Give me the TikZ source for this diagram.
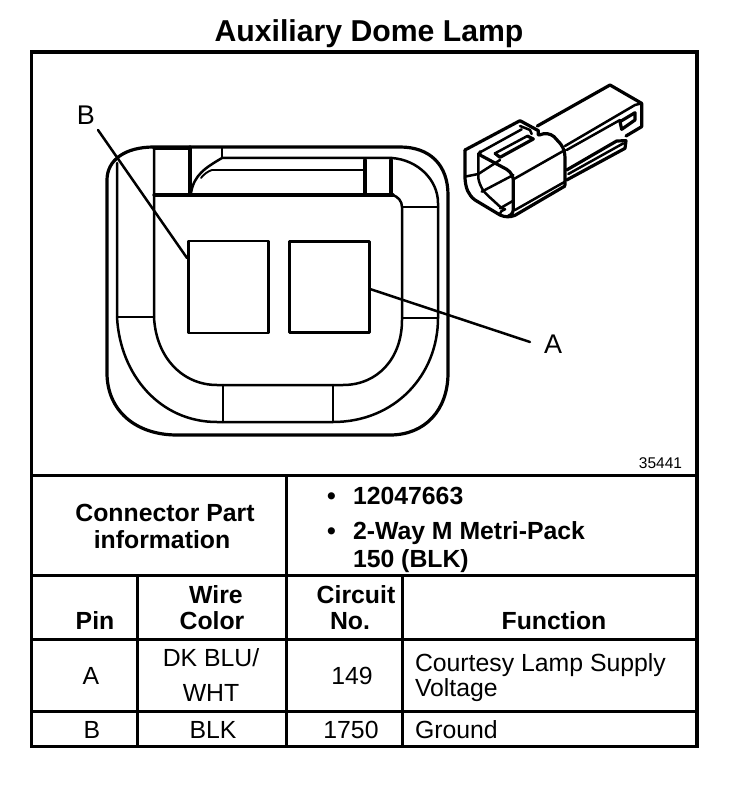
\documentclass[tikz,border=0pt]{standalone}
\usepackage{fontspec}
\setmainfont{Liberation Sans}
\tikzset{
  px/.style={x=1pt,y=-1pt},
  frame line/.style={line width=3.4pt,line join=miter,line cap=butt},
  rule line/.style={line width=3pt,line join=miter,line cap=butt},
  thick line/.style={line width=3.2pt,line join=round,line cap=round},
  med line/.style={line width=2.5pt,line join=round,line cap=round},
  thin line/.style={line width=1.9pt,line join=round,line cap=round},
  txt/.style={inner sep=0pt,outer sep=0pt,anchor=base,text=black,yshift=-1pt},
  ltxt/.style={inner sep=0pt,outer sep=0pt,anchor=base west,text=black,yshift=-1pt},
  title text/.style={txt,font=\fontsize{30.2}{30}\selectfont\bfseries},
  bold text/.style={txt,font=\fontsize{24.8}{25}\selectfont\bfseries},
  lbold text/.style={ltxt,font=\fontsize{24.8}{25}\selectfont\bfseries},
  body text/.style={txt,font=\fontsize{24.8}{25}\selectfont},
  lbody text/.style={ltxt,font=\fontsize{24.8}{25}\selectfont},
  callout/.style={txt,font=\fontsize{27}{27}\selectfont},
  fig number/.style={txt,font=\fontsize{15.5}{15.5}\selectfont},
}
\begin{document}
\begin{tikzpicture}[px]
\useasboundingbox (0,0) rectangle (736,786);
\fill[white] (0,0) rectangle (736,786);
% title
\node[title text] (title) at (369,41) {Auxiliary Dome Lamp};
% frame and table
\draw[frame line] (31.5,52) rectangle (697,746.5);
\draw[rule line] (31.5,475) -- (697,475);
\draw[rule line] (31.5,575) -- (697,575);
\draw[rule line] (31.5,639) -- (697,639);
\draw[rule line] (31.5,711) -- (697,711);
\draw[rule line] (286,475) -- (286,746);
\draw[rule line] (137,575) -- (137,746);
\draw[rule line] (402,575) -- (402,746);
% connector face
\draw[thick line] (190,147) -- (400,147) .. controls (430,147) and (448,165) .. (448,195)
  -- (448,373) .. controls (448,410) and (425,435) .. (390,435)
  -- (177,435) .. controls (135,435) and (107,410) .. (107,373)
  -- (107,180) .. controls (107,160) and (125,147) .. (154,147) -- (190,147);
\draw[med line] (117,163) -- (117,317) .. controls (120,375) and (160,422) .. (217,422)
  -- (333,422) .. controls (395,422) and (438,375) .. (438,318)
  -- (438,203) .. controls (438,180) and (418,160) .. (392,158);
\draw[med line] (154,148) -- (154,317) .. controls (156,358) and (183,385) .. (217,385)
  -- (343,385) .. controls (378,385) and (402,358) .. (402,320)
  -- (402,207) .. controls (402,201) and (398,197) .. (393,195) -- (154,195);
\draw[thick line] (154,148) -- (190,148);
\draw[thick line] (154,195) -- (393,195);
\draw[thick line] (190,147) -- (190,195);
\draw[med line] (222,148) -- (222,158);
\draw[med line] (191,193) .. controls (194,175) and (205,168) .. (222,158) -- (392,158);
\draw[thin line] (201,178) .. controls (203,175) and (208,171) .. (212,170) -- (365,170);
\draw[thick line] (365,160) -- (365,195);
\draw[thick line] (391,160) -- (391,195);
\draw[med line] (402,207) -- (438,207);
\draw[med line] (402,318) -- (438,318);
\draw[med line] (117,317) -- (154,317);
\draw[med line] (223,385) -- (223,422);
\draw[med line] (333,385) -- (333,422);
% pins
\node[draw,med line,minimum width=80pt,minimum height=92pt,inner sep=0pt,anchor=north west] (pinB) at (187,239.5) {};
\node[draw,med line,minimum width=80pt,minimum height=91pt,inner sep=0pt,anchor=north west] (pinA) at (288,240) {};
% callouts
\node[callout] (labelB) at (86,124) {B};
\node[callout] (labelA) at (553,352) {A};
\coordinate (endB) at (98,130);
\coordinate (tipB) at (187,258);
\coordinate (tipA) at (370,289);
\coordinate (endA) at (530,342);
\draw[med line] (endB) -- (tipB);
\draw[med line] (tipA) -- (endA);
% small connector view
\begin{scope}[shift={(450,70)},x=0.33333pt,y=-0.33333pt]
\draw[thick line] (45,240) -- (45,325) .. controls (47,355) and (55,375) .. (75,390) -- (150,435) .. controls (165,442) and (180,442) .. (195,436) -- (345,348);
\draw[thick line] (45,240) -- (210,152) -- (265,182) -- (265,195);
\draw[med line] (85,250) -- (85,325) .. controls (90,350) and (100,365) .. (115,378) -- (150,410) -- (165,418) .. controls (155,422) and (150,425) .. (150,432);
\draw[thick line] (90,245) -- (90,255) -- (170,298) .. controls (185,308) and (190,320) .. (190,335) -- (190,415) .. controls (190,428) and (185,435) .. (175,438);
\draw[med line] (90,247) -- (215,178);
\draw[med line] (210,168) -- (240,180) -- (245,192);
\draw[med line] (190,328) -- (345,240);
\draw[thick line] (268,195) .. controls (285,188) and (300,190) .. (312,200) -- (332,222) .. controls (342,235) and (345,250) .. (345,265) -- (345,345);
\draw[med line] (135,250) -- (232,198);
\draw[thick line] (135,250) -- (150,262) -- (250,207) -- (232,198);
\draw[thick line] (262,168) -- (480,45) -- (575,100) -- (575,170) -- (528,198);
\draw[med line] (345,228) -- (555,105) -- (575,100);
\draw[med line] (350,240) -- (510,150);
\draw[thick line] (510,155) -- (555,128) -- (555,150) -- (515,178) -- cycle;
\draw[thick line] (350,300) -- (500,213) -- (528,212) -- (525,235) -- (350,330);
\draw[med line] (355,312) -- (520,220);
\draw[med line] (45,320) -- (85,312) -- (150,270);
\draw[med line] (95,365) -- (190,315);
\draw[med line] (195,420) -- (345,335);
\draw[med line] (150,415) -- (190,392);
\end{scope}
\node[fig number] (fignum) at (660.5,467) {35441};
% connector info
\node[bold text] (c1) at (165,520) {Connector Part};
\node[bold text] (c2) at (162,547) {information};
\node[lbold text] (b1) at (327,503) {•};
\node[lbold text] (i1) at (353,503) {12047663};
\node[lbold text] (b2) at (327,538) {•};
\node[lbold text] (i2) at (353,538) {2-Way M Metri-Pack};
\node[lbold text] (i3) at (353,566) {150 (BLK)};
% header
\node[bold text] (h1) at (95,628) {Pin};
\node[bold text] (h2a) at (216,602) {Wire};
\node[bold text] (h2b) at (212,628) {Color};
\node[bold text] (h3a) at (356,602) {Circuit};
\node[bold text] (h3b) at (350,628) {No.};
\node[bold text] (h4) at (554,628) {Function};
% rows
\node[body text] (r1) at (91,683) {A};
\node[body text] (r2a) at (211,665) {DK BLU/};
\node[body text] (r2b) at (211,700) {WHT};
\node[body text] (r3) at (352,683) {149};
\node[lbody text] (r4a) at (415,670) {Courtesy Lamp Supply};
\node[lbody text] (r4b) at (415,695) {Voltage};
\node[body text] (s1) at (92,737) {B};
\node[body text] (s2) at (213,737) {BLK};
\node[body text] (s3) at (351,737) {1750};
\node[lbody text] (s4) at (415,737) {Ground};
\end{tikzpicture}
\end{document}
